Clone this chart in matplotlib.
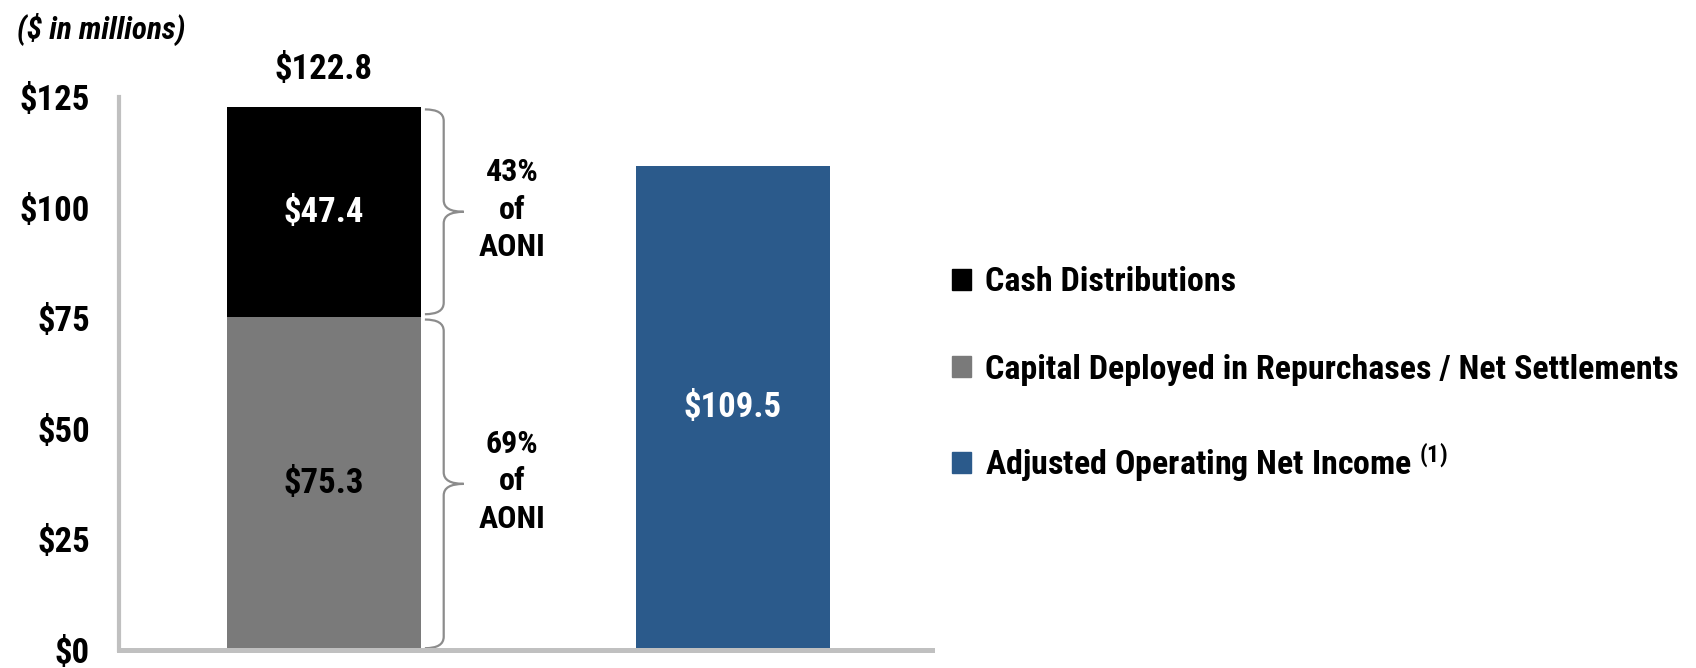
import matplotlib
matplotlib.use('Agg')
import matplotlib.pyplot as plt
from matplotlib.patches import Patch, PathPatch
from matplotlib.path import Path

plt.rcParams['font.family'] = ['Roboto Condensed', 'Roboto', 'DejaVu Sans']
plt.rcParams['font.weight'] = 'bold'
plt.rcParams['mathtext.fontset'] = 'custom'
plt.rcParams['mathtext.rm'] = 'Roboto Condensed:bold'
plt.rcParams['mathtext.default'] = 'rm'

# data
series = ['Cash Distributions',
          'Capital Deployed in Repurchases / Net Settlements',
          'Adjusted Operating Net Income $^{(1)}$']
repurchases = 75.3
distributions = 47.4
aoni = 109.5
total_returned = 122.8
pct_labels = ['43%\nof\nAONI', '69%\nof\nAONI']
yticks = [0, 25, 50, 75, 100, 125]

c_black = '#000000'
c_gray = '#7a7a7a'
c_blue = '#2b5a8b'
c_axis = '#c0c0c0'

W, H = 1696, 668
fig = plt.figure(figsize=(W / 100, H / 100), dpi=100)
ax = fig.add_axes([119 / W, 1 - 650 / H, (932 - 119) / W, (650 - 97) / H])

bw = 0.474
ax.bar(0, repurchases, bw, color=c_gray)
ax.bar(0, distributions, bw, bottom=repurchases, color=c_black)
ax.bar(1, aoni, bw, color=c_blue)

ax.set_xlim(-0.501, 1.487)
ax.set_ylim(0, 125)
ax.set_yticks(yticks)
ax.set_yticklabels(['${}'.format(v) for v in yticks])
ax.tick_params(axis='y', length=0, pad=21, labelsize=25)
ax.set_xticks([])
for s in ['top', 'right']:
    ax.spines[s].set_visible(False)
ax.spines['left'].set_color(c_axis)
ax.spines['left'].set_linewidth(3)
ax.spines['bottom'].set_color(c_axis)
ax.spines['bottom'].set_linewidth(3.6)

# value labels
ax.text(0, repurchases + distributions / 2, '${:.1f}'.format(distributions),
        ha='center', va='center', color='white', fontsize=25)
ax.text(0, repurchases / 2, '${:.1f}'.format(repurchases),
        ha='center', va='center', color='black', fontsize=25)
ax.text(1, aoni / 2, '${:.1f}'.format(aoni),
        ha='center', va='center', color='white', fontsize=25)
ax.annotate('${:.1f}'.format(total_returned), (0, total_returned),
            xytext=(0, 27), textcoords='offset points',
            ha='center', va='center', fontsize=25, annotation_clip=False)


def brace(ax, x0, y_lo, y_hi, xm, xt, r=2.6):
    ym = (y_lo + y_hi) / 2
    verts = [(x0, y_hi), (xm, y_hi), (xm, y_hi - r),
             (xm, ym + r),
             (xm, ym), (xt, ym),
             (xm, ym), (xm, ym - r),
             (xm, y_lo + r),
             (xm, y_lo), (x0, y_lo)]
    codes = [Path.MOVETO, Path.CURVE3, Path.CURVE3,
             Path.LINETO,
             Path.CURVE3, Path.CURVE3,
             Path.CURVE3, Path.CURVE3,
             Path.LINETO,
             Path.CURVE3, Path.CURVE3]
    ax.add_patch(PathPatch(Path(verts, codes), fill=False,
                           edgecolor='#8c8c8c', lw=1.6, clip_on=False))


brace(ax, 0.247, repurchases + 0.6, total_returned - 0.6, 0.293, 0.342)
brace(ax, 0.247, 0.4, repurchases - 0.6, 0.293, 0.342)

ax.text(0.46, repurchases + distributions / 2 + 0.5, pct_labels[0],
        ha='center', va='center', fontsize=23, linespacing=1.32)
ax.text(0.46, repurchases / 2 + 0.5, pct_labels[1],
        ha='center', va='center', fontsize=23, linespacing=1.32)

fig.text(17 / W, 1 - 29 / H, '($ in millions)', ha='left', va='center',
         fontsize=22.5, style='italic', fontweight='bold')

handles = [Patch(color=c_black), Patch(color=c_gray), Patch(color=c_blue)]
fig.legend(handles, series, loc='center left',
           bbox_to_anchor=(952 / W, 1 - 375 / H), frameon=False,
           fontsize=24.5, handlelength=0.55, handleheight=0.55,
           handletextpad=0.42, labelspacing=1.62, borderaxespad=0,
           borderpad=0)

fig.savefig('out.png', dpi=100)
